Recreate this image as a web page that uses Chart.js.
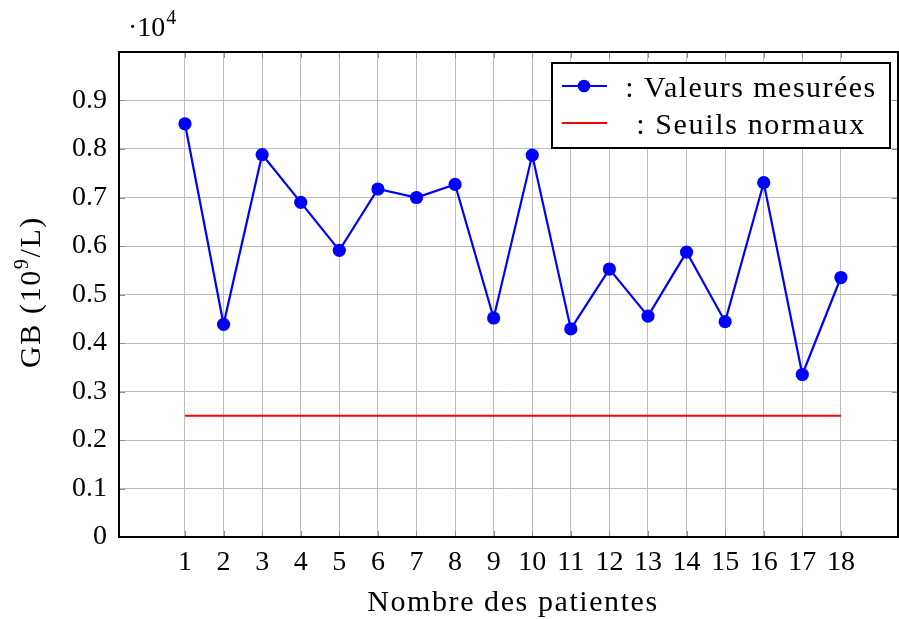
<!DOCTYPE html>
<html>
<head>
<meta charset="utf-8">
<script src="https://cdn.jsdelivr.net/npm/chart.js@4/dist/chart.umd.min.js"></script>
<style>
  html, body { margin: 0; padding: 0; background: #fff; overflow: hidden; }
  #wrap { width: 899px; height: 619px; }
  canvas { display: block; }
</style>
</head>
<body>
<div id="wrap"><canvas id="c" width="899" height="619"></canvas></div>
<script>
// ---- data ----
const patients = [1, 2, 3, 4, 5, 6, 7, 8, 9, 10, 11, 12, 13, 14, 15, 16, 17, 18];
const gbValues = [8520, 4385, 7885, 6900, 5910, 7175, 7000, 7270, 4515, 7875, 4290, 5525, 4555, 5875, 4440, 7305, 3350, 5350];
const thresholdX = [1, 18];
const thresholdY = [2500, 2500];
const yTicks = [0, 1000, 2000, 3000, 4000, 5000, 6000, 7000, 8000, 9000];
const xTicks = patients;
const seriesLabels = [': Valeurs mesurées', ': Seuils normaux'];
const xTitle = 'Nombre des patientes';
const yTitleParts = ['GB (10', '9', '/L)'];

const FONT = '"Liberation Serif", "DejaVu Serif", serif';

const measured = patients.map((p, i) => ({ x: p, y: gbValues[i] }));
const threshold = thresholdX.map((x, i) => ({ x: x, y: thresholdY[i] }));

function setSpacing(ctx, text, size, target) {
  ctx.letterSpacing = '0px';
  ctx.font = size + 'px ' + FONT;
  const w = ctx.measureText(text).width;
  const sp = Math.max(0, (target - w) / Math.max(1, text.length - 1));
  ctx.letterSpacing = sp.toFixed(2) + 'px';
  return sp;
}

const extrasPlugin = {
  id: 'extras',
  afterDraw(chart) {
    const ctx = chart.ctx;
    const area = chart.chartArea;
    const xs = chart.scales.x, ys = chart.scales.y;
    ctx.save();
    // inner tick marks
    ctx.strokeStyle = '#8c8c8c';
    ctx.lineWidth = 1;
    ctx.beginPath();
    xTicks.forEach(v => {
      const px = Math.round(xs.getPixelForValue(v)) + 0.5;
      ctx.moveTo(px, area.bottom); ctx.lineTo(px, area.bottom - 6);
      ctx.moveTo(px, area.top); ctx.lineTo(px, area.top + 6);
    });
    yTicks.forEach(v => {
      const py = Math.round(ys.getPixelForValue(v)) + 0.5;
      ctx.moveTo(area.left, py); ctx.lineTo(area.left + 6, py);
      ctx.moveTo(area.right, py); ctx.lineTo(area.right - 6, py);
    });
    ctx.stroke();
    // axis box
    ctx.strokeStyle = '#000';
    ctx.lineWidth = 2;
    ctx.strokeRect(area.left, area.top, area.right - area.left, area.bottom - area.top);

    // exponent label
    ctx.fillStyle = '#000';
    ctx.textBaseline = 'alphabetic';
    ctx.textAlign = 'left';
    ctx.font = '28px ' + FONT;
    ctx.fillText('·10', area.left + 9, area.top - 16);
    const w = ctx.measureText('·10').width;
    ctx.font = '20px ' + FONT;
    ctx.fillText('4', area.left + 9 + w + 1, area.top - 28);

    // x title
    ctx.textAlign = 'center';
    ctx.textBaseline = 'alphabetic';
    setSpacing(ctx, xTitle, 30, 290);
    ctx.fillText(xTitle, 513, 611);
    ctx.letterSpacing = '0px';

    // y title (rotated, with superscript)
    ctx.save();
    ctx.translate(40, 292);
    ctx.rotate(-Math.PI / 2);
    ctx.textAlign = 'left';
    ctx.textBaseline = 'alphabetic';
    const sizes = [30, 20, 30];
    ctx.letterSpacing = '1.6px';
    const widths = yTitleParts.map((t, i) => { ctx.font = sizes[i] + 'px ' + FONT; return ctx.measureText(t).width; });
    const total = widths.reduce((a, b) => a + b, 0);
    let cx = -total / 2;
    yTitleParts.forEach((t, i) => {
      ctx.font = sizes[i] + 'px ' + FONT;
      ctx.fillText(t, cx, i === 1 ? -12 : 0);
      cx += widths[i];
    });
    ctx.restore();

    // legend
    const ds = chart.data.datasets;
    const lx = area.right - 346, ly = area.top + 11, lw = 338, lh = 85;
    ctx.fillStyle = '#fff';
    ctx.fillRect(lx, ly, lw, lh);
    ctx.strokeStyle = '#000';
    ctx.lineWidth = 2;
    ctx.strokeRect(lx, ly, lw, lh);
    const rows = [ly + 23, ly + 60];
    const textW = [250, 228];
    ds.forEach((d, i) => {
      const y = rows[i];
      ctx.strokeStyle = d.borderColor;
      ctx.lineWidth = d.borderWidth;
      ctx.beginPath();
      ctx.moveTo(lx + 10, y); ctx.lineTo(lx + 55, y);
      ctx.stroke();
      if (d.pointRadius > 0) {
        ctx.fillStyle = d.pointBackgroundColor;
        ctx.beginPath();
        ctx.arc(lx + 32, y, 6.3, 0, Math.PI * 2);
        ctx.fill();
      }
      ctx.fillStyle = '#000';
      ctx.textAlign = 'center';
      ctx.textBaseline = 'alphabetic';
      setSpacing(ctx, d.label, 30, textW[i]);
      ctx.fillText(d.label, lx + 199, y + 11);
      ctx.letterSpacing = '0px';
    });
    ctx.restore();
  }
};

new Chart(document.getElementById('c'), {
  type: 'line',
  data: {
    datasets: [
      {
        label: seriesLabels[0],
        data: measured,
        borderColor: '#0000ff',
        backgroundColor: '#0000ff',
        pointBackgroundColor: '#0000ff',
        pointBorderWidth: 0,
        pointRadius: 6.6,
        borderWidth: 2.2,
        tension: 0,
        fill: false
      },
      {
        label: seriesLabels[1],
        data: threshold,
        borderColor: '#ff0000',
        backgroundColor: '#ff0000',
        pointRadius: 0,
        borderWidth: 2.2,
        tension: 0,
        fill: false
      }
    ]
  },
  options: {
    responsive: false,
    animation: false,
    events: [],
    layout: { autoPadding: false, padding: { top: 52, right: 1, left: 0, bottom: 0 } },
    plugins: {
      legend: { display: false },
      tooltip: { enabled: false }
    },
    scales: {
      x: {
        type: 'linear',
        min: -0.71,
        max: 19.48,
        afterBuildTicks: s => { s.ticks = xTicks.map(v => ({ value: v })); },
        afterFit: s => { s.height = 82; s.paddingLeft = 0; s.paddingRight = 0; },
        grid: { color: '#bdbdbd', lineWidth: 1, drawTicks: false },
        border: { display: false },
        ticks: {
          color: '#000',
          font: { family: FONT, size: 28 },
          padding: 9,
          maxRotation: 0,
          autoSkip: false,
          callback: v => String(v)
        },
        title: { display: false }
      },
      y: {
        type: 'linear',
        min: 0,
        max: 10000,
        afterBuildTicks: s => { s.ticks = yTicks.map(v => ({ value: v })); },
        afterFit: s => { s.width = 119; s.paddingTop = 0; s.paddingBottom = 0; },
        grid: { color: '#bdbdbd', lineWidth: 1, drawTicks: false },
        border: { display: false },
        ticks: {
          color: '#000',
          font: { family: FONT, size: 28 },
          padding: 12,
          callback: v => v === 0 ? '0' : (v / 10000).toFixed(1)
        },
        title: { display: false }
      }
    }
  },
  plugins: [extrasPlugin]
});
</script>
</body>
</html>
